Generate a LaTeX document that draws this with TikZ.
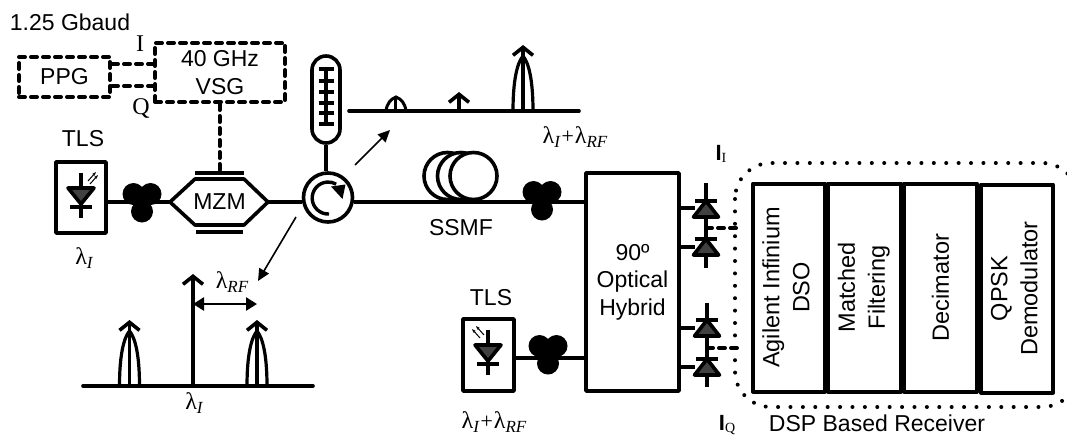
\documentclass[tikz,border=0pt]{standalone}
\usepackage{fontspec}
\setmainfont{Liberation Sans}
\newfontfamily\serifnt{Liberation Serif}
\usetikzlibrary{arrows.meta,shapes.geometric}
\newcommand{\lamb}[1]{{\serifnt\fontsize{24}{24}\selectfont λ\raisebox{-0.3ex}{\fontsize{17}{17}\selectfont\itshape #1}}}
\newcommand{\lplus}{{\serifnt\fontsize{22}{22}\selectfont\itshape +}}
\tikzset{
  x=1pt,y=-1pt,
  txt/.style={font=\fontsize{23}{25}\selectfont,align=center,inner sep=0pt},
  serif/.style={font=\serifnt\fontsize{24}{24}\selectfont,inner sep=0pt},
  lam/.style={inner sep=0pt},
  box/.style={draw,line width=3.6pt,line join=round,inner sep=0pt,align=center,font=\fontsize{23}{27.5}\selectfont},
  dashbox/.style={box,draw,line width=4pt,dash pattern=on 6pt off 6pt,line cap=round},
  fiber/.style={line width=3.6pt},
  elec/.style={line width=4pt,dash pattern=on 6pt off 6pt,line cap=round},
  pointer/.style={line width=1.6pt,-{Triangle[length=12pt,width=11pt]}},
  pcblob/.style={circle,fill=black,minimum size=22pt,inner sep=0pt},
  dsp/.style={box,line width=4pt,minimum height=208pt,font=\fontsize{23.5}{27}\selectfont},
  spec/.style={line width=3.6pt,line cap=round},
  spectip/.style={line width=3.6pt,-{Straight Barb[length=8pt,width=20pt,line width=3.6pt]}},
  pics/peak/.style={code={
    \draw[line width=3.2pt] (-10,0) .. controls (-10,-30) and (-6,-48) .. (0,-55) .. controls (6,-48) and (10,-30) .. (10,0);
    \draw[spectip] (0,0) -- (0,-66);
  }},
  pics/pdiode/.style={code={
    \draw[fill=black!75,line width=3.6pt,line join=round] (-12.5,16) -- (12.5,16) -- (0,0) -- cycle;
    \draw[line width=3.6pt] (-11,0) -- (11,0);
  }},
  pics/laser/.style={code={
    \draw[line width=3.6pt] (0,-15) -- (0,30);
    \draw[fill=black!75,line width=3.6pt,line join=round] (-13,0) -- (13,0) -- (0,16) -- cycle;
    \draw[line width=3.6pt] (-11,19) -- (11,19);
  }},
  pics/pcset/.style={code={
    \node[pcblob] at (-8.5,0) {};
    \node[pcblob] at (8.5,0) {};
    \node[pcblob] at (0,17.5) {};
  }}
}
\begin{document}
\begin{tikzpicture}
\useasboundingbox (0,0) rectangle (1067,434);
\clip (0,0) rectangle (1067,434);
\node[txt] (baud) at (70,22) {1.25 Gbaud};
% modulation source
\node[dashbox,minimum width=91pt,minimum height=40pt] (ppg) at (64.5,77) {PPG};
\node[dashbox,minimum width=130pt,minimum height=59pt] (vsg) at (220,72.5) {40 GHz\\VSG};
\node[serif] (ilab) at (140,44) {I};
\node[serif] (qlab) at (141,108) {Q};
\draw[elec] (ppg.east |- 0,64) -- (vsg.west |- 0,64);
\draw[elec] (ppg.east |- 0,86) -- (vsg.west |- 0,86);
% MZM
\coordinate (mzmL) at (170,202);
\coordinate (mzmR) at (268,202);
\coordinate (mzmT) at (219.5,173);
\draw[line width=3.6pt,line join=round] (mzmL) -- (195,179) -- (244,179) -- (mzmR) -- (244,225) -- (195,225) -- cycle;
\draw[line width=3.6pt] (195,173) -- (244,173);
\draw[line width=3.6pt] (196,232) -- (243,232);
\node[txt] (mzm) at (219.5,202) {MZM};
\draw[elec] (vsg.south -| mzmT) -- (mzmT);
% left TLS
\node[txt] (tls1lab) at (83,139) {TLS};
\node[box,minimum width=50pt,minimum height=71pt] (tls1) at (81,197.5) {};
\pic at (81,188) {laser};
\draw[line width=1pt,-{Stealth[length=4pt,open]}] (88,181) -- (96,172);
\draw[line width=1pt,-{Stealth[length=4pt,open]}] (90,184) -- (98,175);
\node[lam] (l1) at (84,258) {\lamb{I}};
\pic at (142,194) {pcset};
\draw[fiber] (tls1.east |- mzmL) -- (mzmL);
% circulator and grating
\node[draw,circle,line width=3.6pt,minimum size=49pt,inner sep=0pt,fill=white] (circ) at (328,197.5) {};
\draw[line width=3.4pt] (329,214) arc[start angle=-87,end angle=-300,radius=16pt];
\fill (331,186.5) -- (345.5,184.5) -- (342.5,199) -- cycle;
\draw[fiber] (mzmR) -- (circ.west |- mzmR);
\node[draw,line width=3.6pt,rounded corners=14pt,minimum width=28pt,minimum height=87pt,inner sep=0pt] (fbg) at (326,99.5) {};
\draw[fiber] (fbg.south) -- (fbg.south |- circ.north);
\draw[line width=3.6pt] (326,67) -- (326,125);
\foreach \yy in {69,81,92,103,113,124} \draw[line width=3.6pt] (318.5,\yy) -- (333.5,\yy);
% fibre spool
\draw[line width=3.6pt,fill=white] (447.5,176) circle[radius=23.5pt];
\draw[line width=3.6pt,fill=white] (461,176) circle[radius=23.5pt];
\draw[line width=3.6pt,fill=white] (473.5,176) circle[radius=23.5pt];
\node[txt] (ssmf) at (461,228) {SSMF};
\pic at (542,192) {pcset};
% top spectrum
\draw[spec] (349,111) -- (579,111);
\draw[line width=3pt] (386,111) .. controls (387,103) and (391,99) .. (396,97) .. controls (401,99) and (405,103) .. (406,111);
\draw[line width=3pt] (395.5,111) -- (395.5,98);
\draw[spectip] (459,111) -- (459,92);
\pic at (523,111) {peak};
\node[lam] (ltop) at (575,137) {\lamb{I}\lplus\lamb{RF}};
\coordinate (ptA) at (355,165);
\coordinate (ptB) at (390,130);
\draw[pointer] (ptA) -- (ptB);
% lower spectrum
\coordinate (ptC) at (296,217);
\coordinate (ptD) at (258,281);
\draw[pointer] (ptC) -- (ptD);
\draw[spec] (83,386) -- (313,386);
\pic at (129.5,386) {peak};
\pic at (257,386) {peak};
\draw[spectip] (193,386) -- (193,274);
\coordinate (rfA) at (193,304);
\coordinate (rfB) at (257,304);
\draw[line width=2.5pt,{Triangle[length=11pt,width=13pt]}-{Triangle[length=11pt,width=13pt]}] (rfA) -- (rfB);
\node[lam] (lrf) at (232,282) {\lamb{RF}};
\node[lam] (l1b) at (194,403) {\lamb{I}};
% hybrid
\node[box,minimum width=93pt,minimum height=218pt] (hyb) at (632.5,282) {90º\\Optical\\Hybrid};
\draw[fiber] (circ.east |- mzmR) -- (hyb.west |- mzmR);
% lower TLS
\node[txt] (tls2lab) at (491,298) {TLS};
\node[box,minimum width=51pt,minimum height=72pt] (tls2) at (488.5,355) {};
\pic at (488,345) {laser};
\draw[line width=1pt,-{Stealth[length=4pt,open]}] (480,338) -- (472,329);
\draw[line width=1pt,-{Stealth[length=4pt,open]}] (484,335) -- (476,326);
\coordinate (pcL) at (548,358);
\draw[fiber] (tls2.east |- pcL) -- (hyb.west |- pcL);
\pic at (548,346) {pcset};
\node[lam] (l2) at (494,422) {\lamb{I}\lplus\lamb{RF}};
% photodiodes
\draw[line width=3.6pt] (706,183) -- (706,268);
\draw[line width=3.6pt] (707,303) -- (707,387);
\foreach \px/\py in {706/201,706/239,707/320,707/359} \pic at (\px,\py) {pdiode};
\foreach \yy in {208,247,328,367} \draw[fiber] (hyb.east |- 0,\yy) -- (695,\yy);
\coordinate (jI) at (706,228);
\coordinate (jQ) at (707,348);
\coordinate (dI) at (737,228);
\coordinate (dQ) at (737,348);
\draw[elec] (jI) -- (dI);
\draw[elec] (jQ) -- (dQ);
\node[inner sep=0pt,anchor=base] (ii) at (721,160) {\fontsize{22}{22}\selectfont\bfseries I\raisebox{-0.2ex}{\serifnt\mdseries\fontsize{14}{14}\selectfont I}};
\node[inner sep=0pt,anchor=base] (iq) at (727,430) {\fontsize{22}{22}\selectfont\bfseries I\raisebox{-0.2ex}{\serifnt\mdseries\fontsize{14}{14}\selectfont Q}};
% receiver
\draw[line width=4pt,line cap=round,dash pattern=on 0pt off 12.4pt,rounded corners=36pt] (735,163) rectangle (1078,407);
\node[dsp,minimum width=72pt] (d1) at (789,287.5) {\rotatebox{90}{\begin{tabular}{@{}c@{}}Agilent Infinium\\[3pt]DSO\end{tabular}}};
\node[dsp,minimum width=73pt] (d2) at (864.5,287.5) {\rotatebox{90}{\begin{tabular}{@{}c@{}}Matched\\[3pt]Filtering\end{tabular}}};
\node[dsp,minimum width=73pt] (d3) at (940.5,287.5) {\rotatebox{90}{Decimator}};
\node[dsp,minimum width=72pt] (d4) at (1017,288.5) {\rotatebox{90}{\begin{tabular}{@{}c@{}}QPSK\\[3pt]Demodulator\end{tabular}}};
\node[txt] (dsplab) at (877,423) {DSP Based Receiver};
\end{tikzpicture}
\end{document}
